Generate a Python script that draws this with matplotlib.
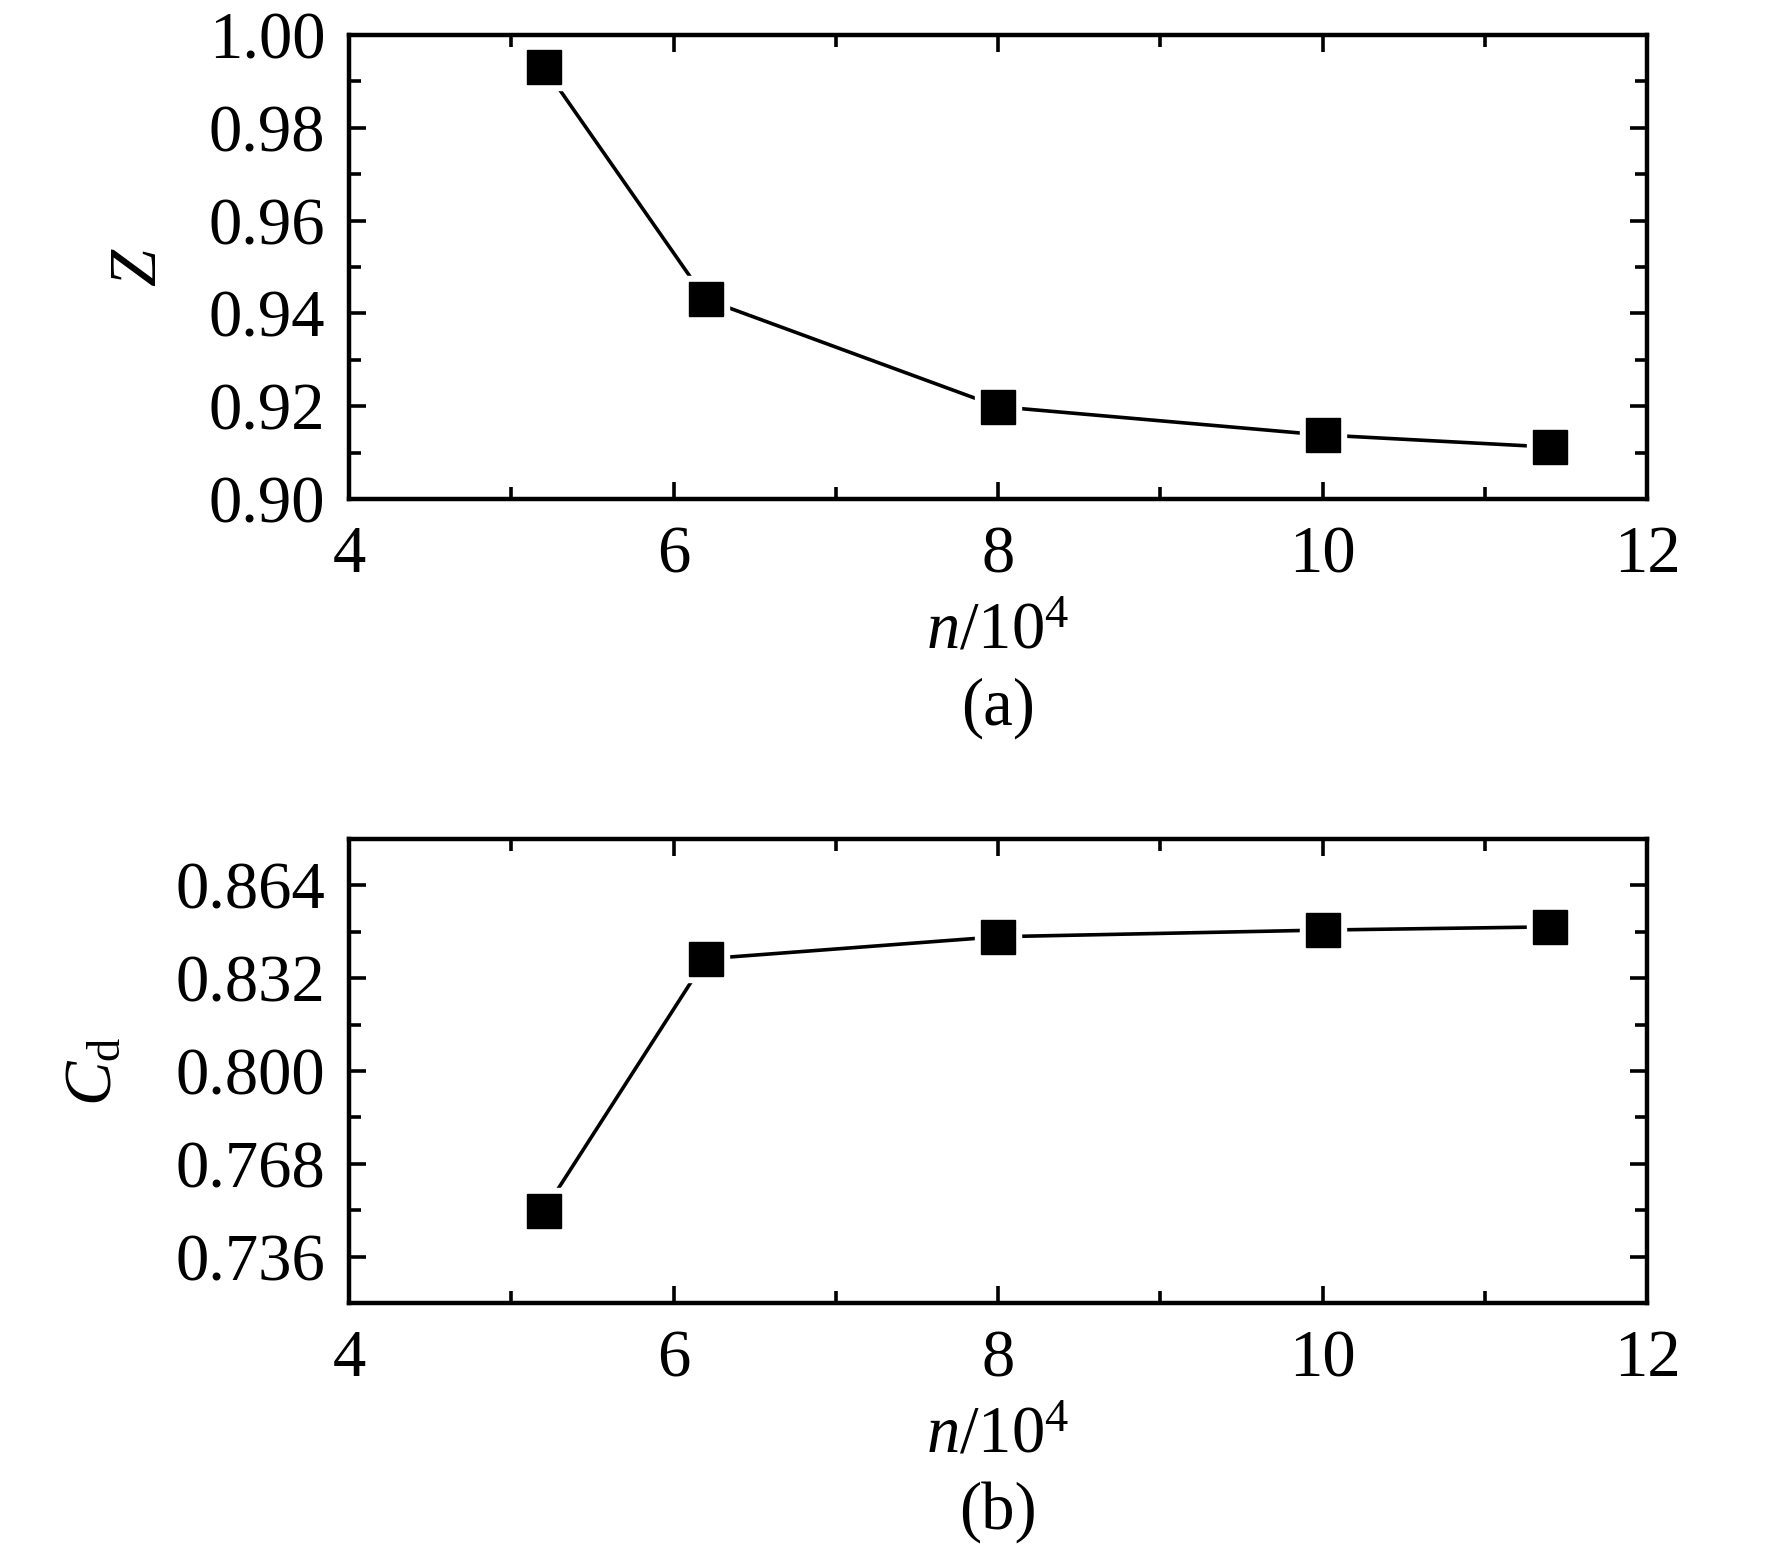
import matplotlib
matplotlib.use('Agg')

import matplotlib.pyplot as plt
from matplotlib.ticker import MultipleLocator, FormatStrFormatter

# data
n = [5.2, 6.2, 8.0, 10.0, 11.4]
z = [0.9931, 0.9430, 0.9199, 0.9138, 0.9112]
cd = [0.7517, 0.8387, 0.8463, 0.8486, 0.8497]

plt.rcParams['font.family'] = ['Liberation Serif', 'DejaVu Serif']
plt.rcParams['mathtext.fontset'] = 'custom'
plt.rcParams['mathtext.rm'] = 'Liberation Serif'
plt.rcParams['mathtext.it'] = 'Liberation Serif:italic'
plt.rcParams['font.size'] = 48

DPI = 100
fig = plt.figure(figsize=(1772 / DPI, 1554 / DPI), dpi=DPI)

ax1 = fig.add_axes([0.197, 0.6789, 0.7325, 0.2986])
ax2 = fig.add_axes([0.197, 0.1615, 0.7325, 0.2986])


def style(ax, ylim, ymaj, ymin, fmt):
    ax.set_xlim(4, 12)
    ax.set_ylim(*ylim)
    ax.xaxis.set_major_locator(MultipleLocator(2))
    ax.xaxis.set_minor_locator(MultipleLocator(1))
    ax.yaxis.set_major_locator(MultipleLocator(ymaj))
    ax.yaxis.set_minor_locator(MultipleLocator(ymin))
    ax.yaxis.set_major_formatter(FormatStrFormatter(fmt))
    for s in ax.spines.values():
        s.set_linewidth(3.2)
    ax.tick_params(which='both', direction='in', top=True, right=True, width=2.6)
    ax.tick_params(which='major', length=12)
    ax.tick_params(which='minor', length=8.5)
    ax.tick_params(axis='x', pad=19)
    ax.tick_params(axis='y', pad=17)


def draw(ax, x, y):
    ax.plot(x, y, color='black', linewidth=2.6, zorder=2)
    ax.plot(x, y, linestyle='none', marker='s', markersize=33, color='white', zorder=3)
    ax.plot(x, y, linestyle='none', marker='s', markersize=24.5, color='black', zorder=4)


style(ax1, (0.90, 1.00), 0.02, 0.01, '%.2f')
style(ax2, (0.72, 0.88), 0.032, 0.016, '%.3f')

# keep y ticks of panel b on the 0.736 grid
ax2.set_yticks([0.736, 0.768, 0.800, 0.832, 0.864])
ax2.set_yticks([0.72, 0.752, 0.784, 0.816, 0.848, 0.88], minor=True)

draw(ax1, n, z)
draw(ax2, n, cd)

ax1.set_ylabel('$Z$')
ax1.yaxis.set_label_coords(-0.138, 0.5)
ax2.set_ylabel(r'$C_{\mathrm{d}}$')
ax2.yaxis.set_label_coords(-0.173, 0.5)

for ax, tag in [(ax1, '(a)'), (ax2, '(b)')]:
    ax.set_xlabel('$n$/10$^4$', va='baseline')
    ax.xaxis.set_label_coords(0.5, -0.321)
    ax.text(0.5, -0.487, tag, transform=ax.transAxes, ha='center', va='baseline')

plt.savefig('out.png', dpi=DPI)
